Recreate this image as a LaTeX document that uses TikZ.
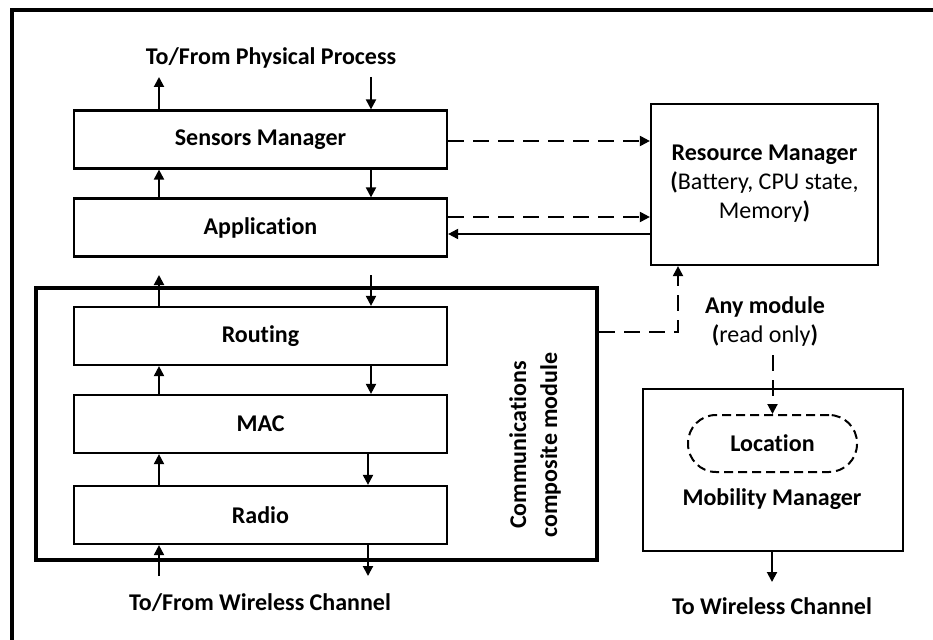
\documentclass[tikz,border=0pt]{standalone}
\usepackage{fontspec}
\setmainfont{Carlito}[RawFeature=-liga]
\usetikzlibrary{arrows.meta}
\begin{document}
\begin{tikzpicture}[x=1pt,y=-1pt,
  font=\fontsize{24}{29}\selectfont,
  tip/.tip={Triangle[length=10pt,width=10pt]},
  layer/.style={draw,line width=2.2pt,minimum width=373pt,minimum height=58pt,
    inner sep=0pt,font=\fontsize{24}{29}\selectfont\bfseries},
  framebox/.style={draw,line width=2.2pt,inner sep=0pt,align=center},
  heavy/.style={draw,line width=4.5pt,inner sep=0pt},
  arr/.style={line width=2pt,-tip},
  dasharr/.style={line width=2pt,-tip,dash pattern=on 16pt off 9pt},
  lbl/.style={inner sep=0pt,align=center,font=\fontsize{24}{29}\selectfont\bfseries}]
\useasboundingbox (0,0) rectangle (933,639);

% outer frame, running off the page on the right and at the bottom
\draw[line width=4pt] (11.5,700) -- (11.5,10.5) -- (1000,10.5);

% protocol stack
\node[layer] (sm)    at (260.5,139.5) {Sensors Manager};
\node[layer] (app)   at (260.5,227.5) {Application};
\node[heavy,minimum width=561pt,minimum height=272pt] (comm) at (316.5,424) {};
\node[layer] (rout)  at (260.5,336) {Routing};
\node[layer] (mac)   at (260.5,424) {MAC};
\node[layer] (radio) at (260.5,515) {Radio};
\node[lbl,rotate=90,font=\fontsize{24}{31}\selectfont\bfseries] (commlbl) at (535,445)
  {Communications\\composite module};

% side modules
\node[framebox,minimum width=227pt,minimum height=161pt] (rm) at (764.5,184.5) {};
\node[align=center,inner sep=0pt] (rmtxt) at (764.5,184) {\textbf{Resource Manager}\\
  \textbf{(}Battery, CPU state,\\ Memory\textbf{)}};
\node[framebox,minimum width=260pt,minimum height=162pt] (mm) at (773,470) {};
\node[draw,line width=2pt,dash pattern=on 9pt off 5pt,rounded corners=28pt,
  minimum width=169pt,minimum height=57pt,inner sep=0pt,font=\fontsize{24}{29}\selectfont\bfseries]
  (loc) at (772.5,443.5) {Location};
\node[lbl] (mmtxt) at (772,499) {Mobility Manager};

% free labels
\node[lbl] (phys) at (271,58) {To/From Physical Process};
\node[lbl] (wch)  at (260,603) {To/From Wireless Channel};
\node[lbl] (tow)  at (772,606) {To Wireless Channel};
\node[align=center,inner sep=0pt] (anymod) at (765,322) {\textbf{Any module}\\
  \textbf{(}read only\textbf{)}};

% arrow columns
\coordinate (xl) at (159,0);
\coordinate (xr) at (371,0);
\coordinate (xr2) at (368,0);
\coordinate (ytop) at (0,77);
\coordinate (ymid) at (0,275);
\coordinate (ybot) at (0,576);

\draw[arr] (sm.north -| xl) -- (xl |- ytop);
\draw[arr] (xr |- ytop) -- (sm.north -| xr);
\draw[arr] (app.north -| xl) -- (sm.south -| xl);
\draw[arr] (sm.south -| xr) -- (app.north -| xr);
\draw[arr] (rout.north -| xl) -- (xl |- ymid);
\draw[arr] (xr |- ymid) -- (rout.north -| xr);
\draw[arr] (mac.north -| xl) -- (rout.south -| xl);
\draw[arr] (rout.south -| xr) -- (mac.north -| xr);
\draw[arr] (radio.north -| xl) -- (mac.south -| xl);
\draw[arr] (mac.south -| xr2) -- (radio.north -| xr2);
\draw[arr] (xl |- ybot) -- (radio.south -| xl);
\draw[arr] (radio.south -| xr2) -- (xr2 |- ybot);

% links to the resource manager
\draw[dasharr] (sm.east |- 0,141) -- (rm.west |- 0,141);
\draw[dasharr] (app.east |- 0,217) -- (rm.west |- 0,217);
\draw[arr] (rm.west |- 0,234) -- (app.east |- 0,234);
\coordinate (bend) at (678,332);
\draw[dasharr] (comm.east |- bend) -- (bend) -- (bend |- rm.south);

% read-only access to the location
\draw[dasharr] (loc.north |- 0,355) -- (loc.north);
\draw[arr] (mm.south -| tow) -- (tow |- 0,582);
\end{tikzpicture}
\end{document}
